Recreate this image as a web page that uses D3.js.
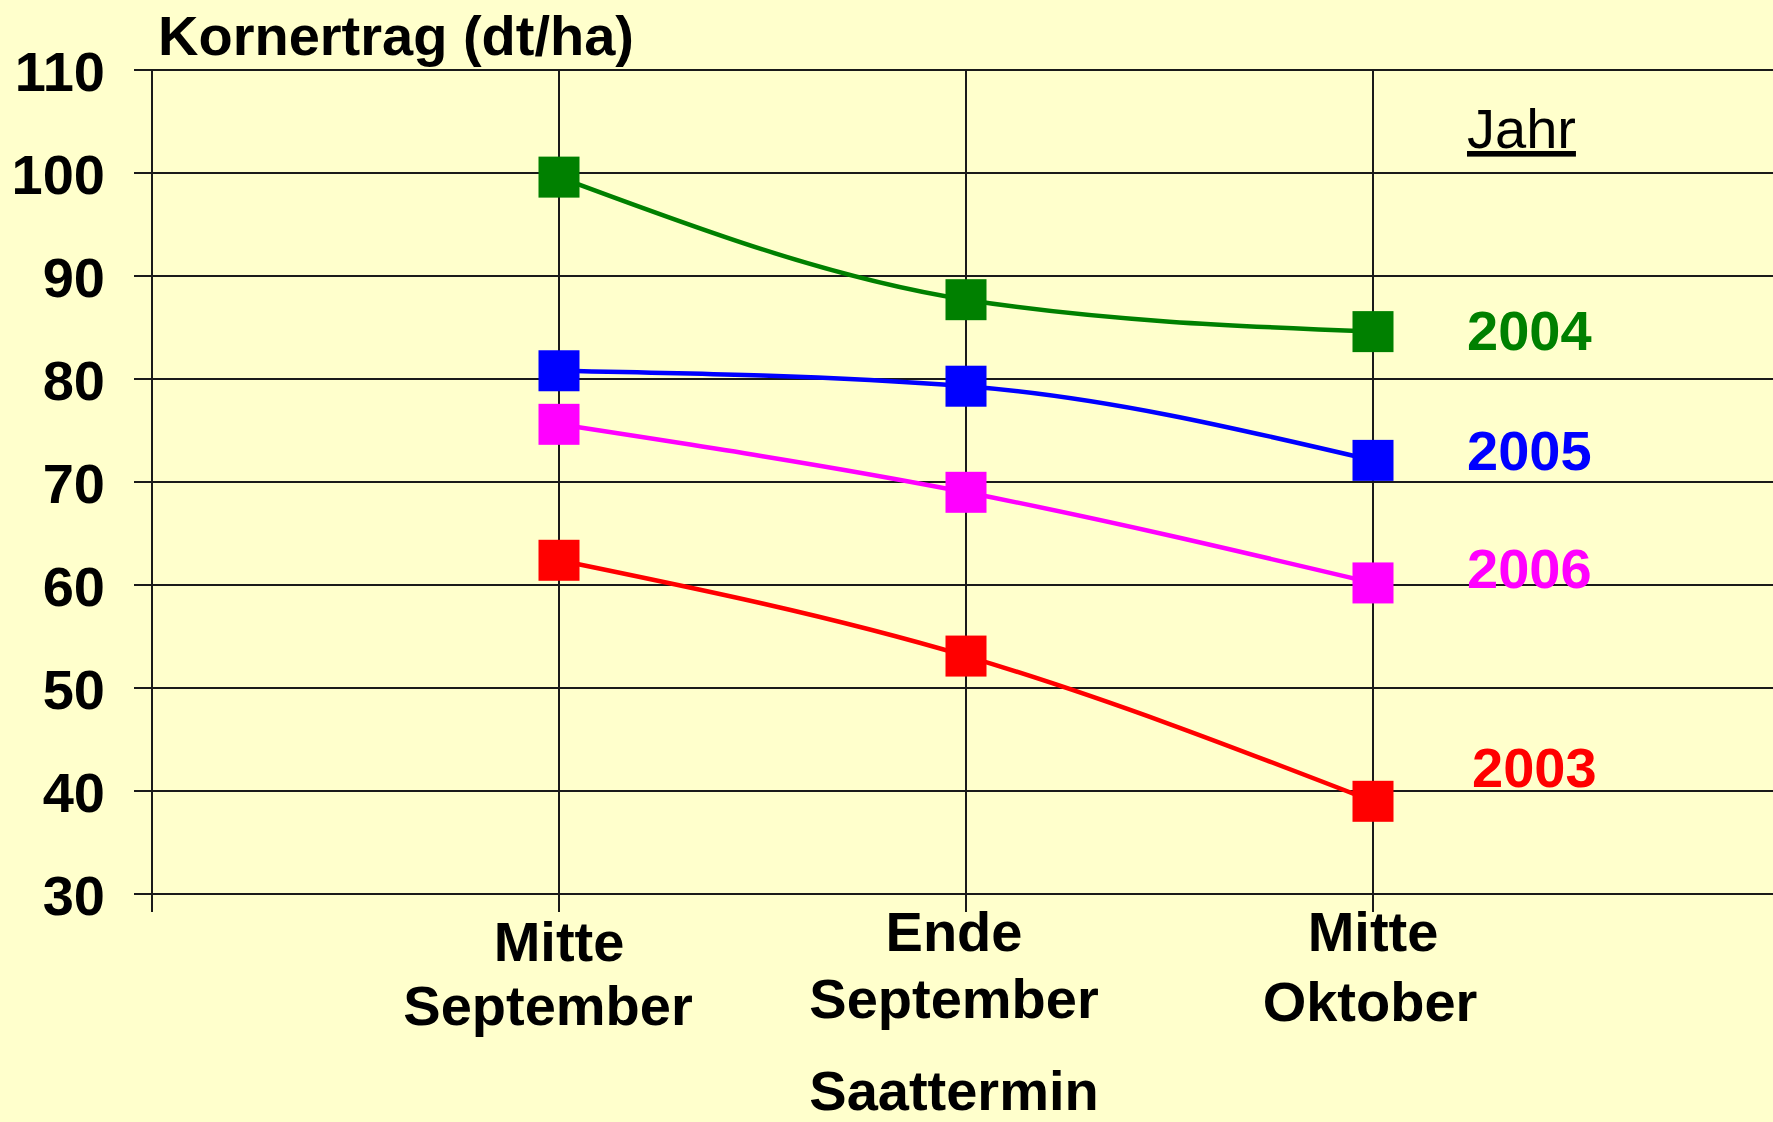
<!DOCTYPE html>
<html>
<head>
<meta charset="utf-8">
<script src="https://cdn.jsdelivr.net/npm/d3@7"></script>
<style>
  html, body { margin: 0; padding: 0; background: #ffffcc; }
  svg { display: block; }
  text { font-family: "Liberation Sans", Arial, sans-serif; }
</style>
</head>
<body>
<div class="chart"></div>
<script>
// Data
const categories = [["Mitte", "September"], ["Ende", "September"], ["Mitte", "Oktober"]];
const years = ["2004", "2005", "2006", "2003"];
const colors = ["#008000", "#0000ff", "#ff00ff", "#ff0000"];
const values2004 = [99.6, 87.7, 84.6];
const values2005 = [80.8, 79.3, 72.1];
const values2006 = [75.6, 69.0, 60.2];
const values2003 = [62.4, 53.1, 39.0];
const yTicks = [30, 40, 50, 60, 70, 80, 90, 100, 110];
// where the year labels sit (in yield units)
const labelLevels = [84.8, 73.1, 61.7, 42.3];

const seriesValues = [values2004, values2005, values2006, values2003];

function draw() {
    const width = 1773, height = 1122;
    const left = 152, top = 70, bottom = 894;
    const step = 407;

    const svg = d3.select(".chart")
        .append("svg")
        .attr("width", width)
        .attr("height", height);

    svg.append("rect")
        .attr("width", width).attr("height", height)
        .attr("fill", "#ffffcc");

    const x = d3.scaleLinear().domain([0, 4]).range([left, left + step * 4]);
    const y = d3.scaleLinear().domain([30, 110]).range([bottom, top]);

    // horizontal gridlines
    svg.append("g")
        .selectAll("line")
        .data(yTicks)
        .enter()
        .append("line")
        .attr("x1", left - 18)
        .attr("x2", width)
        .attr("y1", d => y(d))
        .attr("y2", d => y(d))
        .attr("stroke", "#1a1a1a")
        .attr("stroke-width", 2);

    // vertical lines: axis + one per category
    svg.append("g")
        .selectAll("line")
        .data([0, 1, 2, 3])
        .enter()
        .append("line")
        .attr("x1", d => x(d))
        .attr("x2", d => x(d))
        .attr("y1", top)
        .attr("y2", bottom + 18)
        .attr("stroke", "#1a1a1a")
        .attr("stroke-width", 2);

    // y axis labels
    const yAxis = d3.axisLeft(y).tickValues(yTicks).tickSize(0).tickPadding(47);
    const gy = svg.append("g")
        .attr("transform", `translate(${ left }, 0)`)
        .call(yAxis);
    gy.select(".domain").remove();
    gy.selectAll("text")
        .attr("font-family", "'Liberation Sans', Arial, sans-serif")
        .attr("font-size", 56)
        .attr("font-weight", "bold")
        .attr("fill", "#000")
        .attr("dy", "0.36em");

    // category labels
    const catG = svg.append("g");
    categories.forEach((lines, i) => {
        const first = i === 0 ? 961 : 951;
        const second = i === 0 ? 1025 : (i === 1 ? 1018 : 1021);
        const shift = i === 0 ? -11 : (i === 1 ? -12 : -3);
        const t = catG.append("text")
            .attr("text-anchor", "middle")
            .attr("font-size", 56)
            .attr("font-weight", "bold")
            .attr("fill", "#000");
        t.append("tspan")
            .attr("x", x(i + 1) + (i === 1 ? -12 : 0))
            .attr("y", first)
            .text(lines[0]);
        t.append("tspan")
            .attr("x", x(i + 1) + shift)
            .attr("y", second)
            .text(lines[1]);
    });

    svg.append("text")
        .attr("x", x(2) - 12)
        .attr("y", 1110)
        .attr("text-anchor", "middle")
        .attr("font-size", 56)
        .attr("font-weight", "bold")
        .text("Saattermin");

    svg.append("text")
        .attr("x", 158)
        .attr("y", 55)
        .attr("font-size", 56)
        .attr("font-weight", "bold")
        .text("Kornertrag (dt/ha)");

    // lines
    const line = d3.line()
        .x((d, i) => x(i + 1))
        .y(d => y(d))
        .curve(d3.curveMonotoneX);

    svg.append("g")
        .selectAll("path")
        .data(seriesValues)
        .enter()
        .append("path")
        .attr("d", line)
        .attr("fill", "none")
        .attr("stroke", (d, i) => colors[i])
        .attr("stroke-width", 4.5);

    // markers
    const size = 41;
    seriesValues.forEach((vals, s) => {
        svg.append("g")
            .selectAll("rect")
            .data(vals)
            .enter()
            .append("rect")
            .attr("x", (d, i) => x(i + 1) - size / 2)
            .attr("y", d => y(d) - size / 2)
            .attr("width", size)
            .attr("height", size)
            .attr("fill", colors[s]);
    });

    // legend-like year labels
    svg.append("text")
        .attr("x", 1467)
        .attr("y", 148)
        .attr("font-size", 56)
        .attr("text-decoration", "underline")
        .text("Jahr");

    svg.append("g")
        .selectAll("text")
        .data(years)
        .enter()
        .append("text")
        .attr("x", (d, i) => i === 3 ? 1472 : 1467)
        .attr("y", (d, i) => y(labelLevels[i]))
        .attr("dy", "0.36em")
        .attr("font-size", 56)
        .attr("font-weight", "bold")
        .attr("fill", (d, i) => colors[i])
        .text(d => d);
}

document.addEventListener("DOMContentLoaded", draw);
</script>
</body>
</html>
